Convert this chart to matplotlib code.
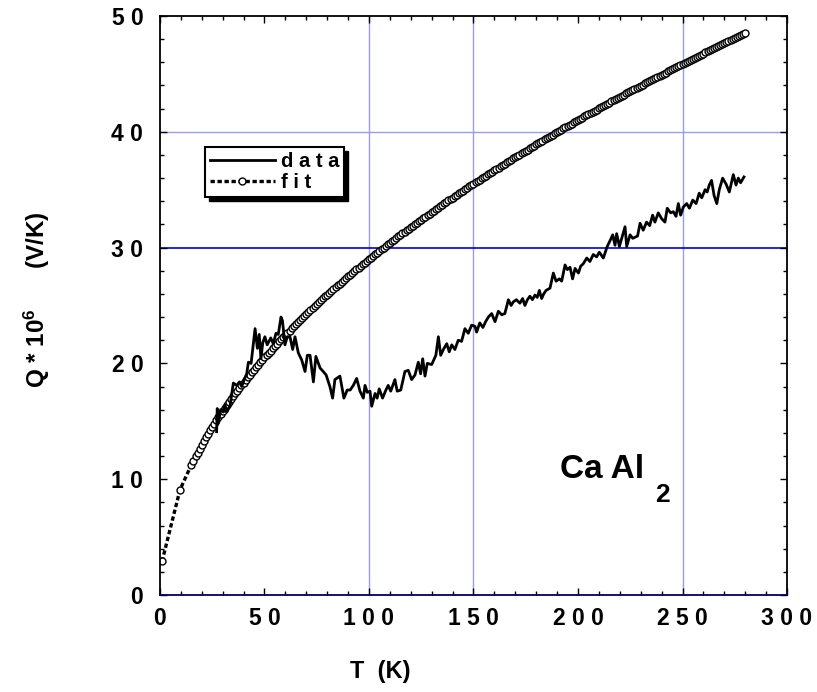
import matplotlib
matplotlib.use('Agg')
import matplotlib.pyplot as plt
from matplotlib.ticker import MultipleLocator, FixedLocator
from matplotlib.lines import Line2D

plt.rcParams['font.family'] = ['Liberation Sans', 'DejaVu Sans']
plt.rcParams['font.weight'] = 'bold'
plt.rcParams['mathtext.fontset'] = 'custom'
plt.rcParams['mathtext.rm'] = 'Liberation Sans:bold'
plt.rcParams['mathtext.bf'] = 'Liberation Sans:bold'
plt.rcParams['mathtext.default'] = 'bf'

# measured thermopower of CaAl2
t_data = [
    27.1, 27.4, 27.9, 29.0, 30.3, 31.1, 32.0, 32.7, 33.5, 35.1,
    36.7, 38.0, 39.1, 40.3, 41.5, 42.3, 43.6, 45.5, 46.6, 47.5,
    48.3, 49.2, 50.2, 51.3, 53.0, 54.2, 55.5, 56.6, 57.9, 58.6,
    59.8, 60.9, 62.2, 63.5, 64.6, 66.2, 67.8, 69.4, 70.5, 71.8,
    73.4, 74.6, 76.6, 78.1, 79.5, 81.3, 82.6, 83.7, 86.1, 88.0,
    89.6, 91.0, 92.5, 94.1, 95.7, 97.3, 98.1, 99.2, 100.5, 101.3,
    102.9, 103.9, 104.9, 106.5, 108.1, 109.2, 110.4, 112.4, 113.5, 115.2,
    117.2, 118.8, 120.4, 122.0, 123.6, 124.7, 125.7, 126.8, 127.9, 130.0,
    132.0, 133.2, 134.3, 135.6, 137.2, 138.4, 139.6, 141.1, 142.7, 144.3,
    145.9, 147.5, 149.1, 150.7, 151.5, 153.0, 154.5, 155.8, 157.1, 158.7,
    160.3, 161.9, 163.5, 165.0, 166.7, 168.0, 169.0, 170.5, 172.2, 173.5,
    174.6, 175.8, 177.0, 178.2, 179.4, 180.5, 181.5, 182.6, 183.6, 184.7,
    186.6, 188.2, 189.5, 191.1, 192.2, 193.8, 194.9, 196.2, 197.4, 198.6,
    200.2, 201.3, 202.5, 204.2, 205.7, 207.3, 208.9, 210.2, 212.1, 214.0,
    215.6, 216.6, 217.7, 218.5, 219.8, 221.4, 222.5, 223.3, 224.9, 226.2,
    227.3, 228.5, 229.7, 231.2, 232.8, 234.3, 235.7, 236.8, 238.4, 240.0,
    241.6, 242.7, 244.3, 245.6, 246.9, 248.0, 249.1, 250.4, 252.0, 253.3,
    254.9, 256.5, 258.0, 259.2, 260.8, 261.8, 262.8, 263.9, 265.1, 266.4,
    267.6, 269.2, 270.8, 272.4, 274.3, 275.6, 276.7, 277.8, 279.4,
]
q_data = [
    14.1, 16.1, 14.8, 16.0, 15.8, 16.4, 15.8, 16.1, 16.3, 18.3,
    18.1, 18.4, 18.0, 18.6, 19.1, 20.1, 20.0, 23.0, 21.3, 22.5,
    20.4, 21.8, 22.3, 21.6, 22.2, 21.7, 22.6, 22.5, 24.0, 23.7,
    21.6, 22.3, 22.3, 21.2, 22.3, 20.9, 20.3, 19.3, 20.7, 20.7,
    18.4, 20.6, 19.6, 19.3, 19.0, 18.0, 17.0, 18.6, 18.9, 17.0,
    17.7, 17.7, 18.1, 18.7, 17.6, 17.0, 18.1, 17.5, 17.6, 16.3,
    17.4, 17.0, 17.8, 17.0, 17.7, 18.1, 17.6, 18.6, 17.6, 17.7,
    19.3, 19.4, 18.6, 19.0, 20.1, 19.1, 20.4, 18.9, 20.0, 19.9,
    20.7, 22.3, 20.7, 21.2, 21.7, 21.0, 21.6, 21.2, 22.0, 21.9,
    23.0, 22.6, 23.3, 23.2, 22.7, 23.5, 23.1, 23.6, 24.0, 24.3,
    23.6, 24.5, 24.2, 24.3, 25.5, 25.0, 25.3, 25.5, 25.2, 25.6,
    25.0, 25.5, 25.8, 25.5, 25.9, 25.7, 26.3, 25.6, 26.0, 26.3,
    26.5, 27.8, 27.1, 27.3, 27.1, 28.5, 28.1, 28.3, 27.3, 28.2,
    27.8, 28.4, 28.6, 29.1, 28.8, 29.4, 29.2, 29.6, 29.1, 30.1,
    30.7, 31.1, 30.2, 31.2, 30.1, 31.1, 31.8, 30.1, 31.1, 30.8,
    30.9, 31.0, 32.1, 31.5, 32.2, 31.9, 32.8, 32.2, 33.0, 32.5,
    32.2, 33.4, 33.0, 33.1, 32.7, 33.8, 32.8, 33.5, 33.8, 33.4,
    34.1, 33.8, 34.7, 34.3, 35.0, 34.8, 35.4, 35.8, 34.5, 33.8,
    35.0, 36.0, 35.5, 34.8, 36.3, 35.4, 36.0, 35.6, 36.1,
]

# fit curve, values
t_fit = [
    1.0, 9.6, 15, 16, 17, 18, 19, 20, 21, 22, 23, 24, 25, 26, 27, 28, 29,
    30, 31, 32, 33, 34, 35, 36, 37, 38, 39, 40, 41, 42, 43, 44, 45, 46,
    47, 48, 49, 50, 51, 52, 53, 54, 55, 56, 57, 58, 59, 60, 61, 62, 63,
    64, 65, 66, 67, 68, 69, 70, 71, 72, 73, 74, 75, 76, 77, 78, 79, 80,
    81, 82, 83, 84, 85, 86, 87, 88, 89, 90, 91, 92, 93, 94, 95, 96, 97,
    98, 99, 100, 101, 102, 103, 104, 105, 106, 107, 108, 109, 110, 111,
    112, 113, 114, 115, 116, 117, 118, 119, 120, 121, 122, 123, 124, 125,
    126, 127, 128, 129, 130, 131, 132, 133, 134, 135, 136, 137, 138, 139,
    140, 141, 142, 143, 144, 145, 146, 147, 148, 149, 150, 151, 152, 153,
    154, 155, 156, 157, 158, 159, 160, 161, 162, 163, 164, 165, 166, 167,
    168, 169, 170, 171, 172, 173, 174, 175, 176, 177, 178, 179, 180, 181,
    182, 183, 184, 185, 186, 187, 188, 189, 190, 191, 192, 193, 194, 195,
    196, 197, 198, 199, 200, 201, 202, 203, 204, 205, 206, 207, 208, 209,
    210, 211, 212, 213, 214, 215, 216, 217, 218, 219, 220, 221, 222, 223,
    224, 225, 226, 227, 228, 229, 230, 231, 232, 233, 234, 235, 236, 237,
    238, 239, 240, 241, 242, 243, 244, 245, 246, 247, 248, 249, 250, 251,
    252, 253, 254, 255, 256, 257, 258, 259, 260, 261, 262, 263, 264, 265,
    266, 267, 268, 269, 270, 271, 272, 273, 274, 275, 276, 277, 278, 279,
    280,
]
q_fit = [
    2.90, 9.10, 11.23, 11.60, 11.96, 12.30, 12.64, 12.97, 13.29, 13.60,
    13.91, 14.21, 14.50, 14.79, 15.07, 15.35, 15.62, 15.88, 16.15, 16.40,
    16.66, 16.91, 17.16, 17.40, 17.64, 17.88, 18.11, 18.34, 18.57, 18.79,
    19.02, 19.24, 19.45, 19.67, 19.88, 20.09, 20.30, 20.51, 20.71, 20.91,
    21.11, 21.31, 21.51, 21.70, 21.89, 22.09, 22.28, 22.46, 22.65, 22.83,
    23.02, 23.20, 23.38, 23.56, 23.74, 23.91, 24.09, 24.26, 24.44, 24.61,
    24.78, 24.95, 25.11, 25.28, 25.45, 25.61, 25.78, 25.94, 26.10, 26.26,
    26.42, 26.58, 26.74, 26.89, 27.05, 27.20, 27.36, 27.51, 27.66, 27.82,
    27.97, 28.12, 28.27, 28.41, 28.56, 28.71, 28.85, 29.00, 29.14, 29.29,
    29.43, 29.57, 29.72, 29.86, 30.00, 30.14, 30.28, 30.42, 30.55, 30.69,
    30.83, 30.96, 31.10, 31.23, 31.37, 31.50, 31.64, 31.77, 31.90, 32.03,
    32.16, 32.29, 32.42, 32.55, 32.68, 32.81, 32.94, 33.07, 33.19, 33.32,
    33.44, 33.57, 33.70, 33.82, 33.94, 34.07, 34.19, 34.31, 34.44, 34.56,
    34.68, 34.80, 34.92, 35.04, 35.16, 35.28, 35.40, 35.52, 35.64, 35.75,
    35.87, 35.99, 36.10, 36.22, 36.34, 36.45, 36.57, 36.68, 36.80, 36.91,
    37.02, 37.14, 37.25, 37.36, 37.48, 37.59, 37.70, 37.81, 37.92, 38.03,
    38.14, 38.25, 38.36, 38.47, 38.58, 38.69, 38.80, 38.91, 39.02, 39.12,
    39.23, 39.34, 39.44, 39.55, 39.66, 39.76, 39.87, 39.97, 40.08, 40.18,
    40.29, 40.39, 40.50, 40.60, 40.70, 40.81, 40.91, 41.01, 41.11, 41.22,
    41.32, 41.42, 41.52, 41.62, 41.72, 41.82, 41.92, 42.03, 42.12, 42.22,
    42.32, 42.42, 42.52, 42.62, 42.72, 42.82, 42.92, 43.01, 43.11, 43.21,
    43.31, 43.40, 43.50, 43.60, 43.69, 43.79, 43.88, 43.98, 44.08, 44.17,
    44.27, 44.36, 44.46, 44.55, 44.65, 44.74, 44.83, 44.93, 45.02, 45.11,
    45.21, 45.30, 45.39, 45.48, 45.58, 45.67, 45.76, 45.85, 45.94, 46.04,
    46.13, 46.22, 46.31, 46.40, 46.49, 46.58, 46.67, 46.76, 46.85, 46.94,
    47.03, 47.12, 47.21, 47.30, 47.39, 47.47, 47.56, 47.65, 47.74, 47.83,
    47.92, 48.00, 48.09, 48.18, 48.27, 48.35, 48.44, 48.53,
]

x_ticks = [0, 50, 100, 150, 200, 250, 300]
x_labels = ["0", "5 0", "1 0 0", "1 5 0", "2 0 0", "2 5 0", "3 0 0"]
y_ticks = [0, 10, 20, 30, 40, 50]
y_labels = ["0", "1 0", "2 0", "3 0", "4 0", "5 0"]

fig = plt.figure(figsize=(8.17, 6.92), dpi=100)
ax = fig.add_axes([0.1958, 0.1402, 0.7675, 0.8367])

# reference lines
for xv in [100, 150, 250]:
    ax.axvline(xv, color='#9a9af0', lw=1.0, zorder=1)
ax.axhline(40, color='#9a9af0', lw=1.0, zorder=1)
ax.axhline(30, color='#0000dd', lw=1.2, zorder=1)

fit_style = dict(color='black', lw=2.4, ls=(0, (1.3, 0.8)), marker='o',
                 ms=5.0, mfc='white', mec='black', mew=1.0)
ax.plot(t_fit, q_fit, zorder=2, **fit_style)
ax.plot(t_data, q_data, color='black', lw=2.0, zorder=3)

ax.set_xlim(0, 300)
ax.set_ylim(0, 50)
ax.xaxis.set_major_locator(FixedLocator(x_ticks))
ax.set_xticklabels(x_labels)
ax.yaxis.set_major_locator(FixedLocator(y_ticks))
ax.set_yticklabels(y_labels)
ax.xaxis.set_minor_locator(MultipleLocator(10))
ax.yaxis.set_minor_locator(MultipleLocator(2))
ax.tick_params(which='both', direction='in', top=True, right=True,
               width=1.0, labelsize=16.5)
ax.tick_params(axis='x', which='major', length=5, pad=9)
ax.tick_params(axis='y', which='major', length=5, pad=12)
ax.tick_params(which='minor', length=3.2)
for lab in ax.get_xticklabels() + ax.get_yticklabels():
    lab.set_fontweight('bold')
for side in ['left', 'right', 'top', 'bottom']:
    ax.spines[side].set_linewidth(1.3)
ax.spines['bottom'].set_color('#000060')

ax.set_xlabel("T  (K)", fontsize=17, fontweight='bold')
ax.xaxis.set_label_coords(0.352, -0.112)
ax.set_ylabel(r"Q * 10$^{6}$      (V/K)", fontsize=17.5, fontweight='bold')
ax.yaxis.set_label_coords(-0.172, 0.51)

ax.text(211.5, 10.8, "Ca Al", fontsize=24, fontweight='bold',
        ha='center', va='center')
ax.text(240.5, 8.6, "2", fontsize=19, fontweight='bold',
        ha='center', va='center')

# legend with a hard black drop shadow (a black copy set slightly off)
handles = [Line2D([], [], color='black', lw=2.0), Line2D([], [], **fit_style)]
labels = ["d a t a", "f i t"]
leg_opts = dict(loc='upper left', fancybox=False, framealpha=1,
                handlelength=3.2, handletextpad=0.3, borderpad=0.25,
                labelspacing=0.1, borderaxespad=0, numpoints=1,
                prop={'size': 14.5, 'weight': 'bold'})
shadow = ax.legend(handles, labels, bbox_to_anchor=(0.072 + 0.0065, 0.774 - 0.007),
                   edgecolor='black', facecolor='black', **leg_opts)
for txt in shadow.get_texts():
    txt.set_visible(False)
shadow.set_zorder(5)
ax.add_artist(shadow)
leg = ax.legend(handles, labels, bbox_to_anchor=(0.072, 0.774),
                edgecolor='black', facecolor='white', **leg_opts)
leg.get_frame().set_linewidth(1.5)
leg.set_zorder(6)

fig.savefig("out.png", dpi=100)
plt.close(fig)
